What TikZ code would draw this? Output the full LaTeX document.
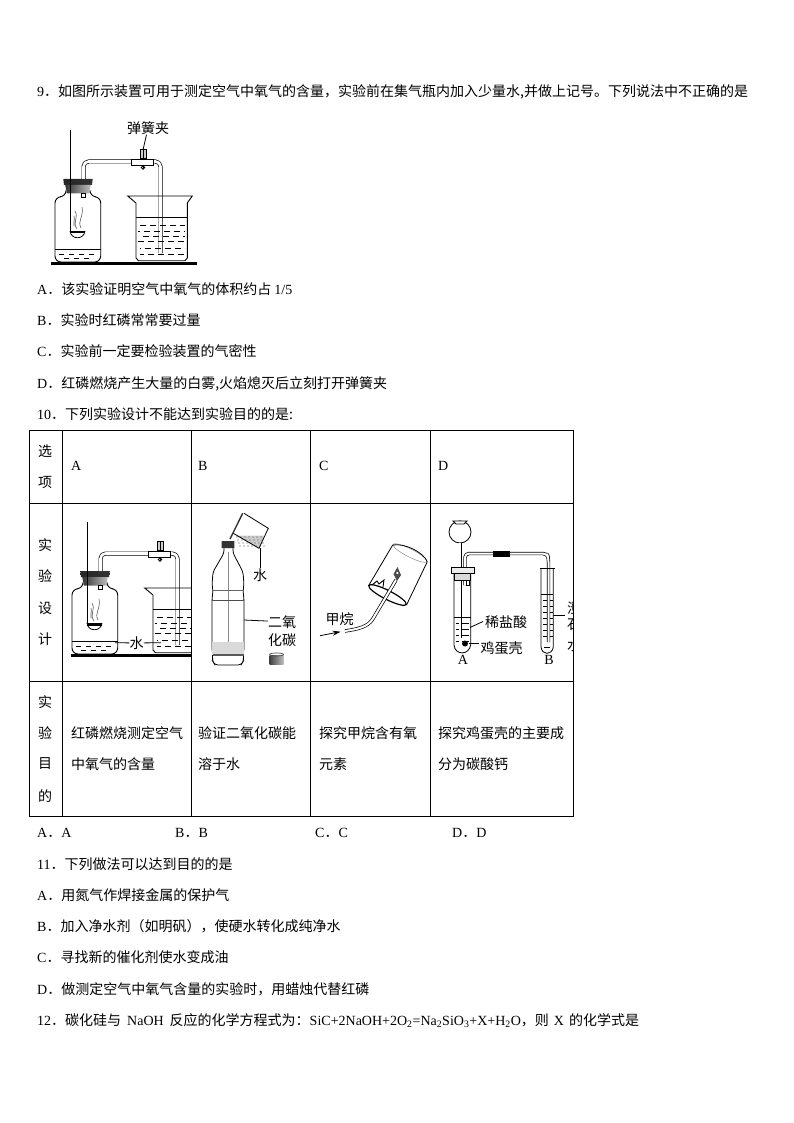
\documentclass[tikz,border=0pt]{standalone}
\usepackage{fontspec}
\setmainfont{Noto Sans CJK SC}
\newfontfamily\latfont{Liberation Serif}
\newcommand{\la}[1]{{\latfont #1}}
\usetikzlibrary{arrows.meta}
\tikzset{
  txt/.style={anchor=west, inner sep=0pt, font=\fontsize{14}{14}\selectfont},
  lbl/.style={inner sep=0pt, font=\fontsize{14}{14}\selectfont},
  tube/.style={line width=.7, double=white, double distance=2.6, line join=round},
  apparatus/.pic={
    % jar
    \draw [line width=.9, rounded corners=6] (66,193) -- (66,196.5) -- (55,197) -- (55,262) -- (100.7,262) -- (100.7,197) -- (90,196.5) -- (90,193);
    \draw [line width=.9] (55,249.5) -- (100.7,249.5);
    \draw [line width=.9, dash pattern=on 5 off 5] (59,254) -- (98,254);
    \draw [line width=.9, dash pattern=on 5 off 5] (64,258.5) -- (92,258.5);
    \shade [left color=black!85, middle color=black!60, right color=black!80] (63.3,179) -- (92.7,179) -- (92,185) -- (64,185) -- cycle;
    \shade [left color=black!80, middle color=black!55, right color=black!25] (65.2,185) -- (90.8,185) -- (89,193.5) -- (67,193.5) -- cycle;
    \draw [line width=.7] (81.7,193.5) rectangle (85,197.5);
    % spoon and smoke
    \draw [line width=.8] (70.3,130) -- (70.3,231);
    \fill (70,231) rectangle (85,233.5);
    \draw [line width=.8] (70,231) .. controls (71,240) and (84,240) .. (85,231);
    \draw [black!65, line width=.6] (77,229) .. controls (72,222) and (79,218) .. (75,211);
    \draw [black!65, line width=.6] (81,228) .. controls (77,221) and (84,217) .. (82,207);
    \draw [black!65, line width=.6] (74,226) .. controls (73,223) and (75,220) .. (74,216);
    % tube and clamp
    \draw [tube, rounded corners=5] (83.5,179) -- (83.5,161.5) -- (160.5,161.5) -- (160.5,253);
    \draw [line width=.8, fill=white] (131.7,159) rectangle (153.3,165);
    \draw [line width=.8] (143,165) -- (143,168);
    \draw [line width=.8] (143,167.5) circle [radius=1.8];
    \draw [line width=.8, fill=black!20] (140.3,149.5) rectangle (146,158);
    \draw [line width=.8] (143,149.5) -- (143,158.7);
    % beaker
    \draw [line width=.9] (136,203) -- (127.7,196) -- (192.3,196) -- (187.3,203) -- (187.3,258) -- (185,260.7) -- (138.5,260.7) -- (136,258) -- cycle;
    \draw [line width=.9] (136,217.7) -- (187.3,217.7);
    \draw [line width=.8, dash pattern=on 6 off 4] (140,225) -- (185,225);
    \draw [line width=.8, dash pattern=on 6 off 4, dash phase=4] (138,231) -- (185,231);
    \draw [line width=.8, dash pattern=on 6 off 4, dash phase=7] (140,236.7) -- (185,236.7);
    \draw [line width=.8, dash pattern=on 6 off 4] (138,241.7) -- (185,241.7);
    \draw [line width=.8, dash pattern=on 6 off 4, dash phase=5] (140,248) -- (185,248);
    \draw [line width=.8, dash pattern=on 6 off 4, dash phase=2] (140,254) -- (185,254);
  }
}
\begin{document}
\begin{tikzpicture}[x=1pt, y=-1pt]
\useasboundingbox [fill=white] (0,0) rectangle (794,1123);

\node [txt] (q9) at (37,91.5) {\la{9}．如图所示装置可用于测定空气中氧气的含量，实验前在集气瓶内加入少量水,并做上记号。下列说法中不正确的是};
\pic at (0,0) {apparatus};
\fill (51,261.8) rectangle (197,264.8);
\node [lbl] (clamp) at (148,128) {弹簧夹};
\coordinate (clamp0) at (143,150);
\draw [line width=.8] (clamp) -- (clamp0);
\node [txt] (q9a) at (37,289.5) {\la{A}．该实验证明空气中氧气的体积约占 \la{1/5}};
\node [txt] (q9b) at (37,320.5) {\la{B}．实验时红磷常常要过量};
\node [txt] (q9c) at (37,351.5) {\la{C}．实验前一定要检验装置的气密性};
\node [txt] (q9d) at (37,383.5) {\la{D}．红磷燃烧产生大量的白雾,火焰熄灭后立刻打开弹簧夹};
\node [txt] (q10) at (37,414.5) {\la{10}．下列实验设计不能达到实验目的的是:};

% table
\draw [line width=.8] (29,430) rectangle (573,816);
\draw [line width=.8] (29,503) -- (573,503);
\draw [line width=.8] (29,681) -- (573,681);
\foreach \cx in {62,191,310,430}
  \draw [line width=.8] (\cx,430) -- (\cx,816);

\node [lbl] (h1) at (45,451) {选};
\node [lbl] (h2) at (45,482) {项};
\node [txt] (ha) at (71,466) {\la{A}};
\node [txt] (hb) at (198,466) {\la{B}};
\node [txt] (hc) at (319,466) {\la{C}};
\node [txt] (hd) at (438,466) {\la{D}};
\node [lbl] (s1) at (45,545) {实};
\node [lbl] (s2) at (45,576) {验};
\node [lbl] (s3) at (45,608) {设};
\node [lbl] (s4) at (45,639) {计};
\node [lbl] (m1) at (45,702) {实};
\node [lbl] (m2) at (45,733) {验};
\node [lbl] (m3) at (45,764) {目};
\node [lbl] (m4) at (45,796) {的};
\node [txt] (a1) at (71,733.5) {红磷燃烧测定空气};
\node [txt] (a2) at (71,764.5) {中氧气的含量};
\node [txt] (b1) at (198,733.5) {验证二氧化碳能};
\node [txt] (b2) at (198,764.5) {溶于水};
\node [txt] (c1) at (319,733.5) {探究甲烷含有氧};
\node [txt] (c2) at (319,764.5) {元素};
\node [txt] (d1) at (438,733.5) {探究鸡蛋壳的主要成};
\node [txt] (d2) at (438,764.5) {分为碳酸钙};

% cell A
\begin{scope}
\clip (62,503) rectangle (191,681);
\pic at (17,392) {apparatus};
\fill (71,653.8) rectangle (191,656.8);
\end{scope}
\node [lbl] (wa) at (136.5,643) {水};
\coordinate (wa1) at (115,642.7);
\coordinate (wa2) at (161,642.7);
\draw [line width=.8] (wa1) -- (wa);
\draw [line width=.8] (wa) -- (wa2);

% cell B, bottle
\draw [line width=.8, rounded corners=3] (224,548) -- (224,553) -- (213,572) -- (212,585) -- (213,590) -- (212,600) -- (212,650) -- (213,655) -- (212,660) -- (215,665) -- (241,665) -- (244,660) -- (243,655) -- (244,650) -- (244,600) -- (243,590) -- (244,585) -- (243,572) -- (233,553) -- (233,548);
\draw [black!45, line width=.6] (228.3,552) -- (228.3,642);
\draw [line width=.6, black!60] (212,590) -- (244,590);
\draw [line width=.9, black!70] (212,600) -- (244,600);
\fill [black!15] (212.4,642) rectangle (243.6,655);
\draw [line width=1.2, black!65] (212.5,655) -- (243.5,655);
\fill [black!80] (221.7,541) -- (234.3,541) -- (234.5,548) -- (221.5,548) -- cycle;
% poured water
\fill [black!20] (235.7,535.7) -- (264,535.7) -- (259,548.3) -- cycle;
\foreach \dx in {238,242,...,262}
  \foreach \dy in {537,540,...,546}
    \fill [black!70] (\dx+\dy/3-180,\dy) circle [radius=.6];
\draw [line width=.8] (244,513.3) -- (268.3,528.3) -- (259,548.3) -- (233.3,533.3);
\draw [line width=1.4, black!80] (242.7,513.3) -- (230,539);
\node [lbl] (wb) at (260,575) {水};
\coordinate (wb1) at (260,548);
\draw [line width=.8] (wb1) -- (wb);
\node [lbl] (co1) at (282,621.7) {二氧};
\node [lbl] (co2) at (282,640) {化碳};
\coordinate (co0) at (244,620);
\draw [line width=.8] (co0) -- (co1);
\shade [left color=black!75, right color=black!25] (269.5,655) rectangle (283.5,664);
\draw [line width=.7, black!70] (276.5,654.5) ellipse [x radius=7, y radius=1.5];

% cell C, methane
\draw [black!45, line width=.5, shift={(410,553)}, rotate=-27] (0,0) ellipse [x radius=19, y radius=4];
\draw [line width=.8] (392.7,545) .. controls (405,543) and (423,552) .. (427.3,561.7);
\draw [line width=.8] (392.7,545) -- (369,585);
\draw [line width=.8] (427.3,561.7) -- (406.5,605);
\draw [line width=1.2, shift={(387.5,595)}, rotate=-27] (0,0) ellipse [x radius=21, y radius=4.5];
\draw [line width=.9] (372,585) -- (377,581) -- (379,584) -- (384,580) -- (383,587);
\draw [tube, double distance=2, rounded corners=2] (345,631) .. controls (358,629) and (368,627) .. (374,617) -- (396,580);
\fill [black!70] (397.5,567) -- (401,575) -- (397,581) -- (393.5,574) -- cycle;
\fill [white] (397.3,573) circle [radius=1.2];
\node [lbl] (ch4) at (339.5,619) {甲烷};
\coordinate (ch1) at (320,635.7);
\coordinate (ch2) at (340.5,631.7);
\draw [line width=.8, -{Stealth[length=8, width=5]}] (ch1) -- (ch2);

% cell D
\begin{scope}
\clip (430,503) rectangle (573,681);
\draw [line width=.8] (460,532) circle [radius=11];
\draw [line width=.8, fill=white] (453,521) -- (467,521) -- (464,524) -- (456,524) -- cycle;
\draw [tube, double distance=1.6] (460,543) -- (460,638);
\draw [tube, double distance=2, rounded corners=4] (465,585) -- (465,553.5) -- (547,553.5) -- (548.5,558) -- (548.5,642);
\fill (492.7,551) rectangle (510,556.5);
\draw [line width=.8] (454,573) -- (454,645) .. controls (455,655.5) and (469,655.5) .. (470.7,645) -- (470.7,573);
\draw [line width=.8, fill=black!15] (454.5,573) rectangle (470.5,580);
\draw [line width=.8, fill=black!8] (451.7,567) rectangle (474,573);
\draw [line width=.7] (466.5,580) rectangle (469,585);
\draw [line width=.7] (454,617.7) -- (470.7,617.7);
\foreach \wy in {623,629,635,641}
  \draw [line width=.6] (455.5,\wy) -- (458.5,\wy) (461.5,\wy) -- (469,\wy);
\fill (465,643.5) circle [radius=3];
\draw [line width=.8] (541,568.5) -- (541,647) .. controls (542,655.5) and (552,655.5) .. (553.3,647) -- (553.3,568.5);
\draw [line width=.8] (539.5,568.5) -- (555,568.5);
\draw [line width=.7] (541,594) -- (553.3,594);
\foreach \wy in {600,606,612,618,624,630,636}
  \draw [line width=.6] (543,\wy) -- (547,\wy) (550,\wy) -- (553,\wy);
\draw [line width=.6] (544,647) -- (550,647);
\node [lbl] (lime1) at (574,608) {澄};
\node [lbl] (lime2) at (574,624.5) {石};
\node [lbl] (lime3) at (574,645) {水};
\coordinate (lime0) at (553.3,615);
\draw [line width=.8] (lime0) -- (565,615);
\end{scope}
\node [lbl] (acid) at (506,622) {稀盐酸};
\node [lbl] (egg) at (501.5,648) {鸡蛋壳};
\coordinate (acid0) at (470,627.5);
\coordinate (egg0) at (469,643);
\draw [line width=.8] (acid0) -- (483,621.5);
\draw [line width=.8] (egg0) -- (479,643);
\node [lbl] (ta) at (463,660) {\la{A}};
\node [lbl] (tb) at (549,660) {\la{B}};

\node [txt] (q10a) at (37,832.5) {\la{A}．\la{A}};
\node [txt] (q10b) at (175,832.5) {\la{B}．\la{B}};
\node [txt] (q10c) at (315,832.5) {\la{C}．\la{C}};
\node [txt] (q10d) at (452,832.5) {\la{D}．\la{D}};
\node [txt] (q11) at (37,864.5) {\la{11}．下列做法可以达到目的的是};
\node [txt] (q11a) at (37,895.5) {\la{A}．用氮气作焊接金属的保护气};
\node [txt] (q11b) at (37,926.5) {\la{B}．加入净水剂（如明矾），使硬水转化成纯净水};
\node [txt] (q11c) at (37,957.5) {\la{C}．寻找新的催化剂使水变成油};
\node [txt] (q11d) at (37,989.5) {\la{D}．做测定空气中氧气含量的实验时，用蜡烛代替红磷};
\node [txt] (q12) at (37,1020.5) {\la{12}．碳化硅与\hspace{6pt}\la{NaOH}\hspace{6pt}反应的化学方程式为：\la{SiC+2NaOH+2O\textsubscript{2}=Na\textsubscript{2}SiO\textsubscript{3}+X+H\textsubscript{2}O}，则\hspace{5pt}\la{X}\hspace{5pt}的化学式是};
\end{tikzpicture}
\end{document}
